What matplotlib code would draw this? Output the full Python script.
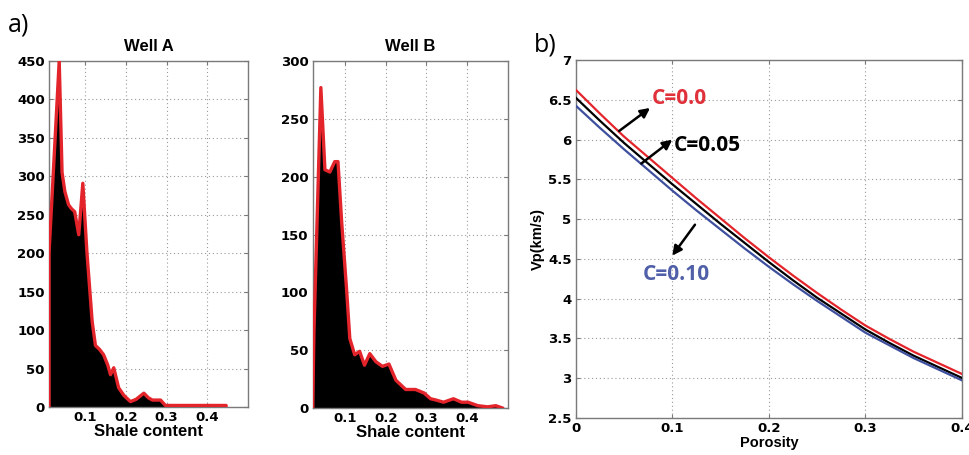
import numpy as np
import matplotlib
matplotlib.use("Agg")
import matplotlib.pyplot as plt

# ---- Histogram of shale content, Well A ----
well_a_shale = [0.011, 0.036, 0.043, 0.050, 0.059, 0.066, 0.074, 0.084, 0.094, 0.104,
                0.117, 0.125, 0.135, 0.145, 0.155, 0.162, 0.170, 0.182, 0.195, 0.211,
                0.225, 0.244, 0.255, 0.265, 0.285, 0.297, 0.310, 0.350, 0.400, 0.446]
well_a_count = [200, 450, 305, 280, 263, 258, 254, 224, 291, 202,
                111, 80, 75, 68, 55, 42, 51, 25, 15, 7,
                10, 18, 12, 9, 9, 2, 2, 2, 2, 2]

# ---- Histogram of shale content, Well B ----
well_b_shale = [0.021, 0.024, 0.041, 0.051, 0.063, 0.075, 0.083, 0.092, 0.104, 0.112,
                0.124, 0.136, 0.148, 0.161, 0.176, 0.192, 0.208, 0.225, 0.249, 0.273,
                0.294, 0.310, 0.322, 0.342, 0.366, 0.386, 0.402, 0.426, 0.450, 0.470,
                0.486]
well_b_count = [0, 65, 277, 206, 204, 213, 213, 161, 103, 60,
                46, 49, 37, 47, 40, 36, 38, 24, 16, 16,
                13, 8, 7, 5, 8, 5, 5, 2, 1, 2,
                0]

# ---- Vp versus porosity for three clay contents ----
porosity = [0.0, 0.025, 0.05, 0.075, 0.10, 0.125, 0.15, 0.175, 0.20,
            0.225, 0.25, 0.275, 0.30, 0.325, 0.35, 0.375, 0.40]
vp_c000 = [6.63, 6.33, 6.04, 5.78, 5.52, 5.26, 5.01, 4.76, 4.52,
           4.29, 4.07, 3.86, 3.66, 3.49, 3.33, 3.19, 3.05]
vp_c005 = [6.53, 6.24, 5.96, 5.70, 5.44, 5.19, 4.94, 4.70, 4.46,
           4.23, 4.01, 3.81, 3.61, 3.44, 3.28, 3.14, 3.00]
vp_c010 = [6.43, 6.15, 5.88, 5.62, 5.36, 5.11, 4.87, 4.63, 4.40,
           4.18, 3.97, 3.77, 3.57, 3.41, 3.25, 3.11, 2.97]

hist_xticks = [0.1, 0.2, 0.3, 0.4]
well_a_yticks = [0, 50, 100, 150, 200, 250, 300, 350, 400, 450]
well_b_yticks = [0, 50, 100, 150, 200, 250, 300]
por_xticks = [0, 0.1, 0.2, 0.3, 0.4]
vp_yticks = [2.5, 3, 3.5, 4, 4.5, 5, 5.5, 6, 6.5, 7]

RED = "#e3242b"
BLUE = "#3e4f9e"
LBL_RED = "#e0303a"
LBL_BLUE = "#4f5fa8"
ANNOT_FONT = ["Open Sans", "DejaVu Sans"]
TICK_FONT = ["DejaVu Sans"]

plt.rcParams["font.family"] = ["Liberation Sans", "DejaVu Sans"]

fig = plt.figure(figsize=(9.69, 4.55), dpi=100)


def style_axes(ax):
    ax.grid(True, linestyle=(0, (1, 2.5)), color="#9a9a9a", linewidth=0.8)
    ax.set_axisbelow(True)
    for s in ax.spines.values():
        s.set_color("#7a7a7a")
        s.set_linewidth(1.0)
    ax.tick_params(direction="in", length=3, width=0.8, color="#7a7a7a",
                   labelsize=9.5, pad=3, top=True, right=True)
    for lab in ax.get_xticklabels() + ax.get_yticklabels():
        lab.set_fontweight("bold")
        lab.set_family(TICK_FONT)


def histo(ax, x, y, xlim, ylim, yticks, title):
    x = np.asarray(x)
    y = np.asarray(y)
    ax.fill_between(x, y, 0, color="black", linewidth=0, zorder=2)
    ax.plot(np.r_[x[0], x, x[-1]], np.r_[0, y, 0], color=RED, linewidth=2.4,
            solid_joinstyle="round", zorder=3, clip_on=True)
    ax.set_xlim(*xlim)
    ax.set_ylim(*ylim)
    ax.set_xticks(hist_xticks)
    ax.set_xticklabels([f"{t:g}" for t in hist_xticks])
    ax.set_yticks(yticks)
    ax.set_yticklabels([str(t) for t in yticks])
    ax.set_title(title, fontsize=12, fontweight="bold", pad=7)
    ax.set_xlabel("Shale content", fontsize=12, fontweight="bold", labelpad=0)
    style_axes(ax)


ax_a = fig.add_axes([0.0506, 0.1055, 0.2054, 0.7604])
histo(ax_a, well_a_shale, well_a_count, (0.011, 0.5), (0, 450), well_a_yticks, "Well A")

ax_b = fig.add_axes([0.3227, 0.1033, 0.2016, 0.7626])
histo(ax_b, well_b_shale, well_b_count, (0.021, 0.5), (0, 300), well_b_yticks, "Well B")

ax_c = fig.add_axes([0.5941, 0.0820, 0.3987, 0.7855])
ax_c.plot(porosity, vp_c000, color=RED, linewidth=1.6, zorder=3)
ax_c.plot(porosity, vp_c005, color="black", linewidth=1.6, zorder=3)
ax_c.plot(porosity, vp_c010, color=BLUE, linewidth=1.6, zorder=3)
ax_c.set_xlim(0, 0.4)
ax_c.set_ylim(2.5, 7)
ax_c.set_xticks(por_xticks)
ax_c.set_xticklabels([f"{t:g}" for t in por_xticks])
ax_c.set_yticks(vp_yticks)
ax_c.set_yticklabels([f"{t:g}" for t in vp_yticks])
ax_c.set_xlabel("Porosity", fontsize=10.5, fontweight="bold", labelpad=1)
ax_c.set_ylabel("Vp(km/s)", fontsize=10.5, fontweight="bold", labelpad=2)
style_axes(ax_c)

arrow = dict(arrowstyle="-|>", color="black", lw=1.8, mutation_scale=14,
             shrinkA=0, shrinkB=0)
ax_c.annotate("", xy=(0.077, 6.40), xytext=(0.045, 6.11), arrowprops=arrow)
ax_c.text(0.079, 6.52, "C=0.0", color=LBL_RED, fontsize=15, fontweight="bold",
          family=ANNOT_FONT, va="center", ha="left")
ax_c.annotate("", xy=(0.100, 6.00), xytext=(0.068, 5.70), arrowprops=arrow)
ax_c.text(0.102, 5.93, "C=0.05", color="black", fontsize=15, fontweight="bold",
          family=ANNOT_FONT, va="center", ha="left")
ax_c.annotate("", xy=(0.100, 4.54), xytext=(0.1235, 4.93), arrowprops=arrow)
ax_c.text(0.069, 4.30, "C=0.10", color=LBL_BLUE, fontsize=15, fontweight="bold",
          family=ANNOT_FONT, va="center", ha="left")

fig.text(0.008, 0.945, "a)", fontsize=18, family=ANNOT_FONT, va="center", ha="left")
fig.text(0.551, 0.9, "b)", fontsize=18, family=ANNOT_FONT, va="center", ha="left")

fig.savefig("out.png", dpi=100)
